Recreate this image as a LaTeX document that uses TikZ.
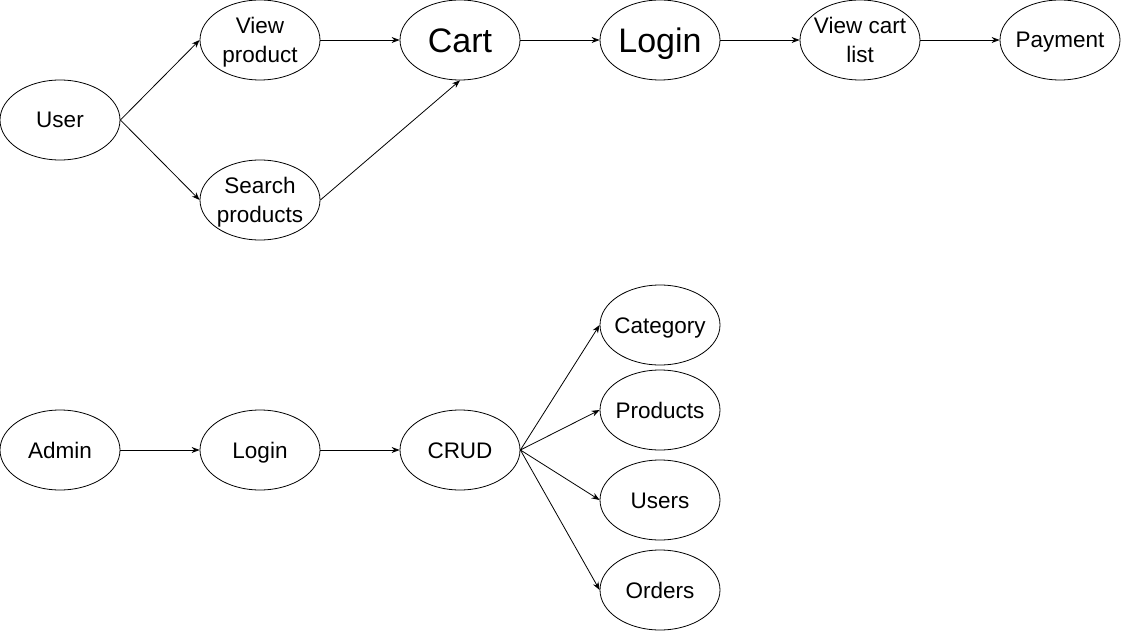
\documentclass[tikz,border=0pt]{standalone}
\usepackage{fontspec}
\setmainfont{Liberation Sans}
\usetikzlibrary{shapes.geometric,arrows.meta}
\begin{document}
\begin{tikzpicture}[x=1pt,y=-1pt,
  st/.style={draw,ellipse,line width=0.8pt,minimum width=120pt,minimum height=80pt,inner sep=0pt},
  lbl/.style={inner sep=0pt,align=center,text height=16pt,text depth=0pt,font=\fontsize{22.5}{28.5}\selectfont},
  lbltwo/.style={lbl,text height=44.5pt},
  big/.style={inner sep=0pt,align=center,text height=24.5pt,text depth=0pt,font=\fontsize{34}{40}\selectfont},
  arr/.style={-{Stealth[length=8pt,width=6pt]},line width=0.8pt}]
\useasboundingbox (0,0) rectangle (1121,631);
% top row
\node[st,label={[lbl]center:User}] (user) at (60,120) {};
\node[st,label={[lbltwo]center:View\\product}] (vp) at (260,40) {};
\node[st,label={[lbltwo]center:Search\\products}] (sp) at (260,200) {};
\node[st,label={[big]center:Cart}] (cart) at (460,40) {};
\node[st,label={[big]center:Login}] (login) at (660,40) {};
\node[st,label={[lbltwo]center:View cart\\list}] (vcl) at (860,40) {};
\node[st,label={[lbl]center:Payment}] (pay) at (1060,40) {};
\draw[arr] (user.east) -- (vp.west);
\draw[arr] (user.east) -- (sp.west);
\draw[arr] (vp.east) -- (cart.west);
\draw[arr] (sp.east) -- (cart.south);
\draw[arr] (cart.east) -- (login.west);
\draw[arr] (login.east) -- (vcl.west);
\draw[arr] (vcl.east) -- (pay.west);
% bottom
\node[st,label={[lbl]center:Admin}] (admin) at (60,450) {};
\node[st,label={[lbl]center:Login}] (login2) at (260,450) {};
\node[st,label={[lbl]center:CRUD}] (crud) at (460,450) {};
\node[st,label={[lbl]center:Category}] (cat) at (660,325) {};
\node[st,label={[lbl]center:Products}] (prod) at (660,410) {};
\node[st,label={[lbl]center:Users}] (users) at (660,500) {};
\node[st,label={[lbl]center:Orders}] (orders) at (660,590) {};
\draw[arr] (admin.east) -- (login2.west);
\draw[arr] (login2.east) -- (crud.west);
\draw[arr] (crud.east) -- (cat.west);
\draw[arr] (crud.east) -- (prod.west);
\draw[arr] (crud.east) -- (users.west);
\draw[arr] (crud.east) -- (orders.west);
\end{tikzpicture}
\end{document}
